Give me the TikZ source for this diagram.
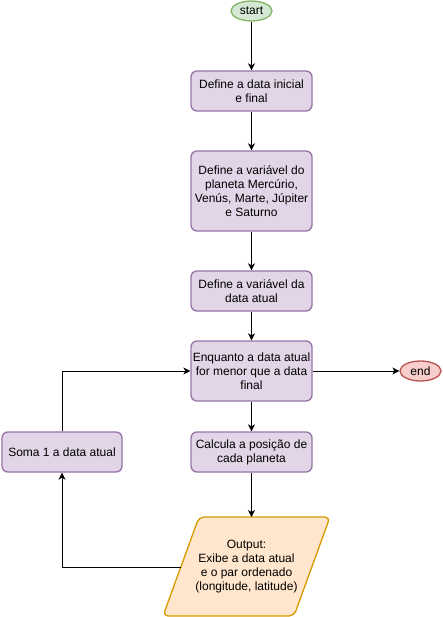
\documentclass[tikz,border=0pt]{standalone}
\usepackage{fontspec}
\setmainfont{Liberation Sans}
\usetikzlibrary{shapes.geometric,arrows.meta}
\definecolor{pfill}{HTML}{E1D5E7}
\definecolor{pdraw}{HTML}{9673A6}
\definecolor{gfill}{HTML}{D5E8D4}
\definecolor{gdraw}{HTML}{82B366}
\definecolor{rfill}{HTML}{F8CECC}
\definecolor{rdraw}{HTML}{B85450}
\definecolor{ofill}{HTML}{FFE6CC}
\definecolor{odraw}{HTML}{D79B00}
\tikzset{
  lbl/.style={font=\fontsize{12}{14.2}\selectfont, align=center, inner sep=0pt},
  procbox/.style={lbl, draw=pdraw, fill=pfill, line width=1.3pt, rounded corners=6pt, minimum width=121pt},
  startnode/.style={lbl, ellipse, draw=gdraw, fill=gfill, line width=1.3pt, minimum width=41pt, minimum height=20pt},
  endnode/.style={lbl, ellipse, draw=rdraw, fill=rfill, line width=1.3pt, minimum width=41pt, minimum height=20pt},
  conn/.style={line width=1pt, -{Stealth[length=7pt,width=7pt,inset=2pt]}},
}
\begin{document}
\begin{tikzpicture}[x=1pt,y=-1pt]
\useasboundingbox (0,0) rectangle (442,617);
\node[startnode] (start) at (251.5,11) {start};
\node[procbox, minimum height=40pt] (b1) at (251.5,91) {Define a data inicial\\e final};
\node[procbox, minimum height=80pt] (b2) at (251.5,191) {Define a variável do\\planeta Mercúrio,\\Venús, Marte, Júpiter\\e Saturno};
\node[procbox, minimum height=40pt] (b3) at (251.5,291) {Define a variável da\\data atual};
\node[procbox, minimum height=60pt] (b4) at (251.5,371) {Enquanto a data atual\\for menor que a data\\final};
\node[endnode] (endn) at (420.5,371) {end};
\node[procbox, minimum height=40pt] (b5) at (251.5,452) {Calcula a posição de\\cada planeta};
\node[procbox, minimum height=40pt, minimum width=120pt] (soma) at (62,452) {Soma 1 a data atual};
\draw[draw=odraw, fill=ofill, line width=1.3pt, rounded corners=5pt]
  (163,616) -- (199,517) -- (330,517) -- (294,616) -- cycle;
\node[lbl] (out) at (246.5,566.5) {Output:\\Exibe a data atual\\e o par ordenado\\(longitude, latitude)};
\coordinate (outtop) at (251.5,517);
\coordinate (outleft) at (181,567);
\draw[conn] (start) -- (b1);
\draw[conn] (b1) -- (b2);
\draw[conn] (b2) -- (b3);
\draw[conn] (b3) -- (b4);
\draw[conn] (b4) -- (b5);
\draw[conn] (b4.east) -- (endn.west);
\draw[conn] (b5.south) -- (outtop);
\draw[conn] (outleft) -| (soma.south);
\draw[conn] (soma.north) |- (b4.west);
\end{tikzpicture}
\end{document}
